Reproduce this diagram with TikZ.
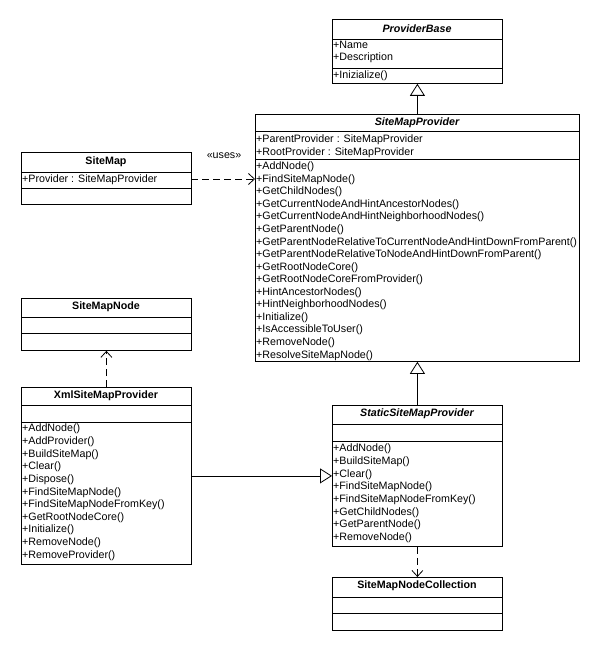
\documentclass[tikz,border=0pt]{standalone}
\usepackage{fontspec}
\setmainfont{Liberation Sans}
\usetikzlibrary{arrows.meta}
\begin{document}
\begin{tikzpicture}[x=1pt,y=-1pt,
  box/.style={draw, line width=0.8pt, inner sep=0pt, anchor=north west},
  sepline/.style={line width=0.8pt},
  txt/.style={anchor=west, inner sep=0pt, font=\fontsize{10.7}{12}\selectfont},
  ttl/.style={inner sep=0pt, font=\fontsize{10.7}{12}\selectfont\bfseries},
  ittl/.style={inner sep=0pt, font=\fontsize{10.7}{12}\selectfont\bfseries\itshape},
  gen/.style={-{Triangle[open,length=12pt,width=15pt]}, line width=0.8pt},
  dep/.style={-{Straight Barb[length=6pt,width=11pt]}, line width=0.8pt, dash pattern=on 7pt off 4pt}]
\useasboundingbox (0,0) rectangle (600,650);

% ProviderBase
\node[box, minimum width=170pt, minimum height=64pt] (pb) at (332,19) {};
\draw[sepline] (332,39) -- (502,39) (332,68) -- (502,68);
\node[ittl] (pbt) at (417,29) {ProviderBase};
\node[txt] (pb1) at (333,45) {+Name};
\node[txt] (pb2) at (333,58) {+Description};
\node[txt] (pb3) at (333,75.5) {+Inizialize()};

% SiteMapProvider
\node[box, minimum width=324pt, minimum height=247pt] (smp) at (255,114) {};
\draw[sepline] (255,131) -- (579,131) (255,159) -- (579,159);
\node[ittl] (smpt) at (417,123) {SiteMapProvider};
\node[txt] (smpa1) at (256,140) {+ParentProvider : SiteMapProvider};
\node[txt] (smpa2) at (256,153) {+RootProvider : SiteMapProvider};
\foreach \t [count=\i from 0] in {AddNode(),FindSiteMapNode(),GetChildNodes(),GetCurrentNodeAndHintAncestorNodes(),GetCurrentNodeAndHintNeighborhoodNodes(),GetParentNode(),GetParentNodeRelativeToCurrentNodeAndHintDownFromParent(),GetParentNodeRelativeToNodeAndHintDownFromParent(),GetRootNodeCore(),GetRootNodeCoreFromProvider(),HintAncestorNodes(),HintNeighborhoodNodes(),Initialize(),IsAccessibleToUser(),RemoveNode(),ResolveSiteMapNode()}
  \node[txt] (smpo\i) at (256,167+12.55*\i) {+\t};

% SiteMap
\node[box, minimum width=170pt, minimum height=52pt] (sm) at (21,152) {};
\draw[sepline] (21,172) -- (191,172) (21,188) -- (191,188);
\node[ttl] (smt) at (106,162) {SiteMap};
\node[txt] (sma1) at (22,180) {+Provider : SiteMapProvider};

% SiteMapNode
\node[box, minimum width=170pt, minimum height=52pt] (smn) at (21,298) {};
\draw[sepline] (21,317) -- (191,317) (21,333) -- (191,333);
\node[ttl] (smnt) at (106,307) {SiteMapNode};

% XmlSiteMapProvider
\node[box, minimum width=170pt, minimum height=177pt] (xml) at (21,387) {};
\draw[sepline] (21,405) -- (191,405) (21,422) -- (191,422);
\node[ttl] (xmlt) at (106,396) {XmlSiteMapProvider};
\foreach \t [count=\i from 0] in {AddNode(),AddProvider(),BuildSiteMap(),Clear(),Dispose(),FindSiteMapNode(),FindSiteMapNodeFromKey(),GetRootNodeCore(),Initialize(),RemoveNode(),RemoveProvider()}
  \node[txt] (xmlo\i) at (22,429+12.65*\i) {+\t};

% StaticSiteMapProvider
\node[box, minimum width=170pt, minimum height=141pt] (ssmp) at (332,405) {};
\draw[sepline] (332,424) -- (502,424) (332,441) -- (502,441);
\node[ittl] (ssmpt) at (417,414) {StaticSiteMapProvider};
\foreach \t [count=\i from 0] in {AddNode(),BuildSiteMap(),Clear(),FindSiteMapNode(),FindSiteMapNodeFromKey(),GetChildNodes(),GetParentNode(),RemoveNode()}
  \node[txt] (ssmpo\i) at (333,449+12.7*\i) {+\t};

% SiteMapNodeCollection
\node[box, minimum width=170pt, minimum height=53pt] (smnc) at (332,577) {};
\draw[sepline] (332,597) -- (502,597) (332,613) -- (502,613);
\node[ttl] (smnct) at (417,586) {SiteMapNodeCollection};

% connectors
\draw[gen] (smp.north -| pb.south) -- (pb.south);
\draw[gen] (ssmp.north) -- (ssmp.north |- smp.south);
\draw[gen] (xml.east) -- (ssmp.west);
\coordinate (smdep) at (191,179);
\draw[dep] (smdep) -- (smdep -| smp.west);
\node[inner sep=0pt, font=\fontsize{10.7}{12}\selectfont] (uses) at (224,156) {«uses»};
\draw[dep] (xml.north) -- (smn.south);
\draw[dep] (ssmp.south) -- (smnc.north);
\end{tikzpicture}
\end{document}
